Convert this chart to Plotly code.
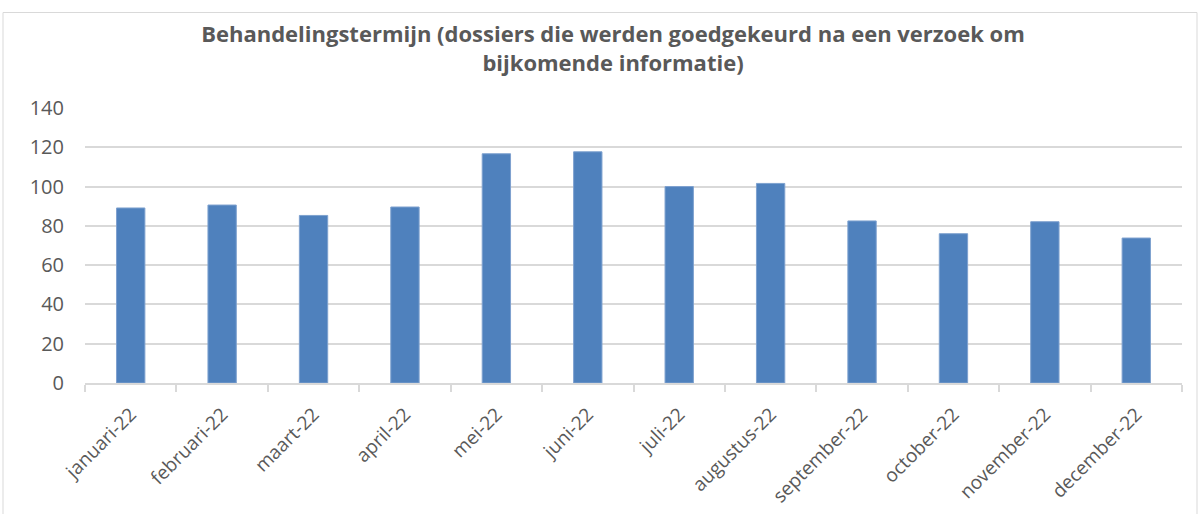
import plotly.graph_objects as go

months = ["januari-22", "februari-22", "maart-22", "april-22", "mei-22", "juni-22",
          "juli-22", "augustus-22", "september-22", "october-22", "november-22", "december-22"]
values = [89.1, 90.6, 85.3, 89.6, 116.7, 117.7, 100.0, 101.6, 82.5, 76.0, 82.1, 73.8]
y_ticks = [0, 20, 40, 60, 80, 100, 120, 140]

title_text = ("Behandelingstermijn (dossiers die werden goedgekeurd na een verzoek om"
              "<br>bijkomende informatie)")

FONT = "Open Sans, sans-serif"
GREY = "#595959"
GRID = "#d9d9d9"

W, H = 1200, 514
L, R, T, B = 85, 18, 108, 131
pw, ph = W - L - R, H - T - B

fig = go.Figure(go.Bar(
    x=months, y=values,
    marker=dict(color="#4F81BD", line=dict(color="#7EA1CF", width=1)),
    width=0.31,
))

def px_to_paper_x(px):
    return (px - L) / pw

def px_to_paper_y(py):
    return (H - B - py) / ph

fig.update_layout(
    width=W, height=H,
    margin=dict(l=L, r=R, t=T, b=B, autoexpand=False),
    paper_bgcolor="white", plot_bgcolor="white",
    font=dict(family=FONT, color=GREY, size=19),
    showlegend=False,
    title=dict(text=title_text, x=613 / W, xanchor="center", y=1 - 42 / H, yanchor="top",
               font=dict(family=FONT, size=22, color=GREY, weight="bold")),
    xaxis=dict(
        type="category", tickangle=-45, showgrid=False, automargin=False,
        showline=True, linecolor=GRID, linewidth=1.5,
        ticks="outside", tickson="boundaries", ticklen=7, tickcolor=GRID, tickwidth=1.5,
        ticklabelstandoff=11,
        tickfont=dict(size=19, color=GREY, family=FONT),
    ),
    yaxis=dict(
        range=[0, 140], tickvals=y_ticks, showgrid=True, gridcolor=GRID, gridwidth=1.5,
        zeroline=False, showline=False, ticks="", ticklabelstandoff=20, automargin=False,
        tickfont=dict(size=20, color=GREY, family=FONT),
    ),
    shapes=[dict(
        type="rect", xref="paper", yref="paper", layer="below",
        x0=px_to_paper_x(3), x1=px_to_paper_x(1197),
        y0=px_to_paper_y(520), y1=px_to_paper_y(12.5),
        line=dict(color=GRID, width=1), fillcolor="rgba(0,0,0,0)",
    )],
)

fig.write_html("out.html", config={"displayModeBar": False},
               post_script="document.body.style.margin='0';")
